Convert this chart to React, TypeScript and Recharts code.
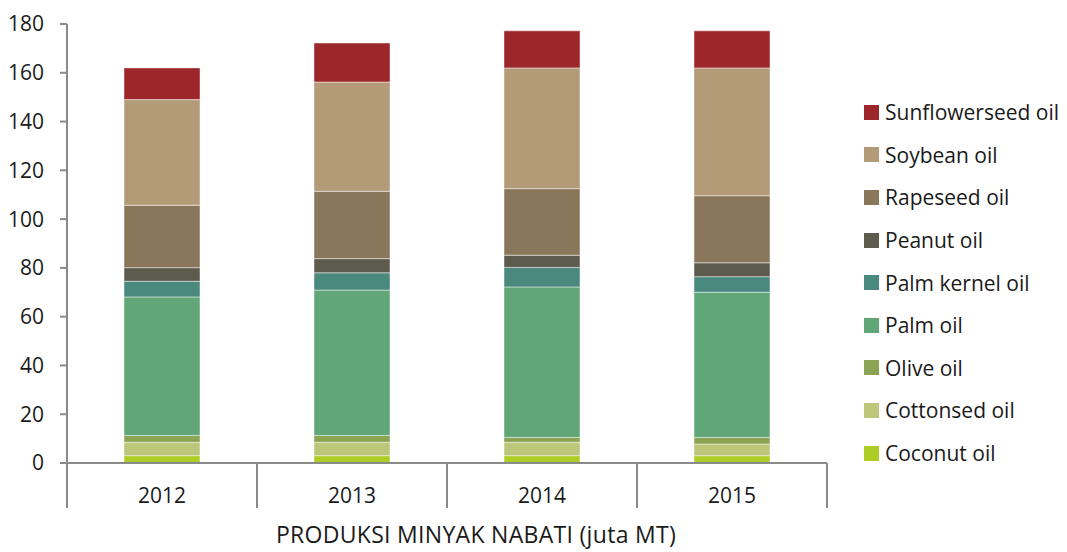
import React from 'react';
import { BarChart, Bar, XAxis, YAxis } from 'recharts';

const YEARS = ['2012', '2013', '2014', '2015'];
const Y_TICKS = [0, 20, 40, 60, 80, 100, 120, 140, 160, 180];

const coconut = [3.0, 3.0, 3.0, 3.0];
const cottonseed = [5.5, 5.5, 5.5, 4.8];
const olive = [2.8, 2.8, 2.0, 2.7];
const palm = [56.8, 59.6, 61.7, 59.5];
const palmKernel = [6.4, 7.1, 8.0, 6.4];
const peanut = [5.6, 5.8, 5.0, 5.7];
const rapeseed = [25.6, 27.6, 27.3, 27.5];
const soybean = [43.3, 44.8, 49.5, 52.4];
const sunflower = [13.0, 16.0, 15.2, 15.2];

// bottom to top
const SERIES = [
  { key: 'coconut', name: 'Coconut oil', color: '#aecd24', values: coconut },
  { key: 'cottonseed', name: 'Cottonsed oil', color: '#bdc779', values: cottonseed },
  { key: 'olive', name: 'Olive oil', color: '#8aa453', values: olive },
  { key: 'palm', name: 'Palm oil', color: '#61a677', values: palm },
  { key: 'palmKernel', name: 'Palm kernel oil', color: '#4a8a7e', values: palmKernel },
  { key: 'peanut', name: 'Peanut oil', color: '#5d5b4e', values: peanut },
  { key: 'rapeseed', name: 'Rapeseed oil', color: '#8a775b', values: rapeseed },
  { key: 'soybean', name: 'Soybean oil', color: '#b39b77', values: soybean },
  { key: 'sunflower', name: 'Sunflowerseed oil', color: '#9d262a', values: sunflower },
];

const data = YEARS.map((year, i) => {
  const row: Record<string, any> = { year };
  SERIES.forEach((s) => {
    row[s.key] = s.values[i];
  });
  return row;
});

const FONT = '"Open Sans", sans-serif';
const AXIS_COLOR = '#8a8a8a';
const WIDTH = 1067;
const HEIGHT = 552;
const MARGIN = { top: 24, right: 240, left: 7, bottom: 0 };
const Y_AXIS_W = 60;
const PLOT_W = WIDTH - MARGIN.left - MARGIN.right - Y_AXIS_W;
const BAND = PLOT_W / YEARS.length;

const YearTick = ({ x, y, payload, index }: any) => (
  <g>
    <line x1={x - BAND / 2} x2={x - BAND / 2} y1={y} y2={y + 45} stroke={AXIS_COLOR} strokeWidth={2} />
    {index === YEARS.length - 1 && (
      <line x1={x + BAND / 2} x2={x + BAND / 2} y1={y} y2={y + 45} stroke={AXIS_COLOR} strokeWidth={2} />
    )}
    <text x={x} y={y + 40} textAnchor="middle" fontSize={21} fontFamily={FONT} fill="#1a1a1a">
      {payload.value}
    </text>
  </g>
);

const OilLegend = () => (
  <div style={{ position: 'absolute', left: 864, top: 91, fontFamily: FONT, fontSize: 21, color: '#1a1a1a' }}>
    {[...SERIES].reverse().map((s) => (
      <div key={s.key} style={{ display: 'flex', alignItems: 'center', height: 42.6 }}>
        <div style={{ width: 15, height: 15, backgroundColor: s.color, marginRight: 6 }} />
        <span style={{ whiteSpace: 'nowrap' }}>{s.name}</span>
      </div>
    ))}
  </div>
);

export default function App() {
  return (
    <div style={{ position: 'absolute', left: 0, top: 0, width: WIDTH, height: HEIGHT, background: '#fff' }}>
      <BarChart width={WIDTH} height={HEIGHT} data={data} margin={MARGIN}>
        <XAxis
          dataKey="year"
          height={89}
          axisLine={{ stroke: AXIS_COLOR, strokeWidth: 2 }}
          tickLine={false}
          tickSize={0}
          tickMargin={0}
          tick={<YearTick />}
          interval={0}
          label={{
            value: 'PRODUKSI MINYAK NABATI (juta MT)',
            position: 'insideBottom',
            offset: 9,
            dx: 29,
            fontSize: 23,
            fontFamily: FONT,
            fill: '#1a1a1a',
            style: { letterSpacing: '0.3px' },
          }}
        />
        <YAxis
          width={Y_AXIS_W}
          domain={[0, 180]}
          ticks={Y_TICKS}
          interval={0}
          tickSize={7}
          tickMargin={16}
          axisLine={{ stroke: AXIS_COLOR, strokeWidth: 2 }}
          tickLine={{ stroke: AXIS_COLOR, strokeWidth: 2 }}
          tick={{ fontSize: 21, fontFamily: FONT, fill: '#1a1a1a' }}
        />
        {SERIES.map((s) => (
          <Bar
            key={s.key}
            dataKey={s.key}
            name={s.name}
            stackId="oil"
            fill={s.color}
            stroke="rgba(255,255,255,0.45)"
            strokeWidth={1}
            barSize={76}
            isAnimationActive={false}
          />
        ))}
      </BarChart>
      <OilLegend />
    </div>
  );
}
